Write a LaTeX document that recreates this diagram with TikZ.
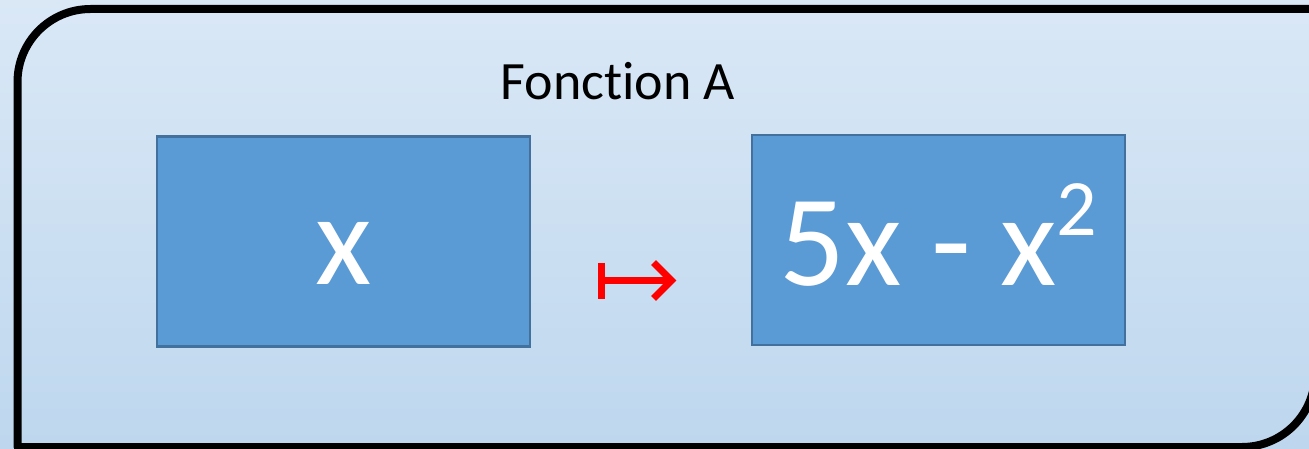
\documentclass[tikz,border=0pt]{standalone}
\usepackage{fontspec}
\setmainfont{Carlito}[Ligatures=CommonOff]
\definecolor{bgtop}{RGB}{218,232,246}
\definecolor{bgbot}{RGB}{190,215,238}
\definecolor{boxfill}{RGB}{91,155,213}
\definecolor{boxline}{RGB}{65,113,156}
\begin{document}
\begin{tikzpicture}[x=1pt,y=1pt,
  valbox/.style={draw=boxline, line width=2.5pt, fill=boxfill, text=white,
    inner sep=0pt, minimum width=373pt, minimum height=210pt, text depth=0pt},
  bigtext/.style={font=\fontsize{130}{150}\selectfont},
  titletext/.style={font=\fontsize{54}{64}\selectfont, anchor=base, inner sep=0pt},
  maparrow/.style={red, line width=7pt}]
  % background and frame
  \useasboundingbox (0,0) rectangle (1309,448);
  \shade[top color=bgtop, bottom color=bgbot] (0,0) rectangle (1309,448);
  \draw[line width=8pt, line join=round]
    (17.5,1) -- (17.5,366) arc[start angle=180, end angle=90, radius=73]
    -- (1315,439) -- (1315,74) arc[start angle=0, end angle=-90, radius=73]
    -- cycle;
  % title
  \node[titletext] (title) at (618,348) {Fonction A};
  % argument and image boxes
  \node[valbox, bigtext, text height=85pt] (arg) at (343.5,206.5) {x};
  \node[valbox, bigtext, text height=90pt] (img) at (938.5,208)
    {5x - x\raisebox{50pt}{\fontsize{80}{86}\selectfont 2}};
  % maps-to sign between the boxes
  \coordinate (bar) at (601.5,167.5);
  \draw[maparrow] ([yshift=18pt]bar) -- ([yshift=-18pt]bar);
  \draw[maparrow] (bar) -- ([xshift=67pt]bar);
  \draw[maparrow, line join=miter] ([xshift=52pt,yshift=18pt]bar) -- ([xshift=70pt]bar) -- ([xshift=52pt,yshift=-18pt]bar);
\end{tikzpicture}
\end{document}
